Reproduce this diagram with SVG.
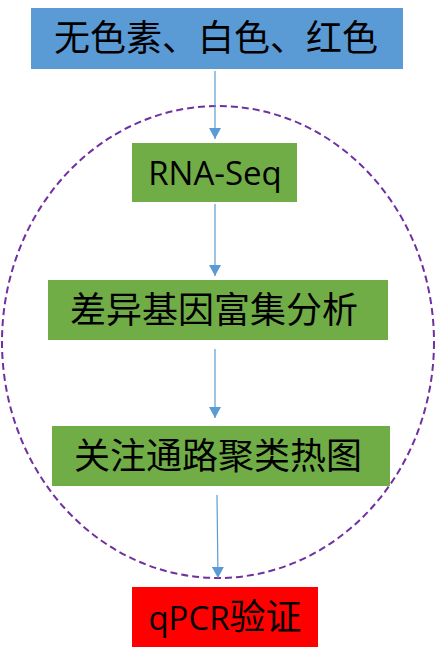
<svg xmlns="http://www.w3.org/2000/svg" width="435" height="664" viewBox="0 0 435 664">
<defs>
<marker id="tri" markerWidth="12" markerHeight="12" refX="11" refY="6" orient="auto" markerUnits="userSpaceOnUse" viewBox="0 0 11 12">
<path d="M0,0 L11,6 L0,12 Z" fill="#5B9BD5"/>
</marker>
</defs>
<style>
.cjk{font-family:"Noto Sans CJK SC","Liberation Sans",sans-serif;font-size:36px;fill:#000;text-anchor:middle}
.lat{font-family:"Open Sans","Liberation Sans","Noto Sans CJK SC",sans-serif;font-size:33px;fill:#000;text-anchor:middle}
.conn{stroke:#5B9BD5;stroke-width:1.2;fill:none;marker-end:url(#tri)}
</style>
<g id="boundary">
<ellipse cx="218" cy="342" rx="216" ry="236" fill="none" stroke="#7030A0" stroke-width="2" stroke-dasharray="7,4"/>
</g>
<g id="connectors">
<line class="conn" x1="215" y1="71" x2="215" y2="139"/>
<line class="conn" x1="215" y1="204" x2="215" y2="276"/>
<line class="conn" x1="215" y1="349" x2="215" y2="418"/>
<line class="conn" x1="217" y1="495" x2="218" y2="578"/>
</g>
<g id="n1">
<rect x="31" y="8" width="372" height="61" fill="#5B9BD5"/>
<text class="cjk" x="216" y="51">无色素、白色、红色</text>
</g>
<g id="n2">
<rect x="132" y="143" width="165" height="59" fill="#70AD47"/>
<text class="lat" x="215" y="185">RNA-Seq</text>
</g>
<g id="n3">
<rect x="48" y="280" width="340" height="60" fill="#70AD47"/>
<text class="cjk" x="214" y="323">差异基因富集分析</text>
</g>
<g id="n4">
<rect x="52" y="426" width="338" height="60" fill="#70AD47"/>
<text class="cjk" x="218" y="469">关注通路聚类热图</text>
</g>
<g id="n5">
<rect x="132" y="587" width="186" height="60" fill="#FF0000"/>
<text class="lat" x="225" y="630">qPCR<tspan style="font-family:'Noto Sans CJK SC',sans-serif;font-size:36px">验证</tspan></text>
</g>
</svg>
